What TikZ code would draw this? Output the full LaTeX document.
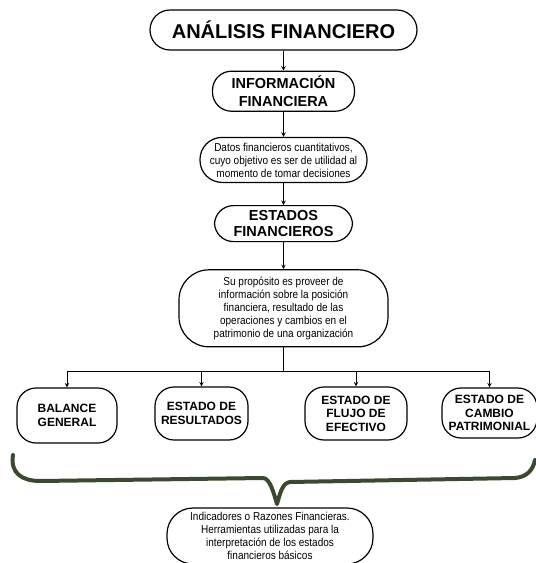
\documentclass[tikz,border=0pt]{standalone}
\usepackage{fontspec}
\setmainfont{Liberation Sans}
\newfontfamily\narrowfont[FakeStretch=0.87]{Liberation Sans}
\usepackage{tikz}
\usetikzlibrary{positioning}
\definecolor{llave}{HTML}{3B4A2F}

\begin{document}
\begin{tikzpicture}[x=1pt,y=-1pt,
    caja/.style={draw,line width=1.2pt,rounded corners=19pt,align=center,inner sep=1pt},
    negrita/.style={caja,font=\bfseries\fontsize{12}{13.5}\selectfont},
    texto/.style={caja,font=\narrowfont\fontsize{11.5}{13}\selectfont},
    flecha/.style={line width=1pt,-stealth}]
    \useasboundingbox (0,0) rectangle (536,563);
    %% cadena principal
     \node (tit) [caja,rounded corners=20pt,minimum width=267pt,minimum height=40pt,font=\bfseries\fontsize{20}{24}\selectfont] at (283.5,30) {ANÁLISIS FINANCIERO};
     \node (info) [caja,below=20pt of tit,minimum width=142pt,minimum height=40pt,font=\bfseries\fontsize{14.5}{18}\selectfont] {INFORMACIÓN\\FINANCIERA};
     \node (datos) [texto,rounded corners=22pt,below=25pt of info,minimum width=167pt,minimum height=45pt] {Datos financieros cuantitativos,\\cuyo objetivo es ser de utilidad al\\momento de tomar decisiones};
     \node (edos) [caja,below=22pt of datos,minimum width=138pt,minimum height=36pt,font=\bfseries\fontsize{14.5}{16}\selectfont] {ESTADOS\\FINANCIEROS};
     \node (prop) [texto,rounded corners=30pt,below=27pt of edos,minimum width=209pt,minimum height=77pt] {Su propósito es proveer de\\información sobre la posición\\financiera, resultado de las\\operaciones y cambios en el\\patrimonio de una organización};

     \draw[flecha] (tit) -- (info);
     \draw[flecha] (info) -- (datos);
     \draw[flecha] (datos) -- (edos);
     \draw[flecha] (edos) -- (prop);

    %% estados basicos
     \coordinate (j) at (283.5,371);
     \node (bal) [negrita,minimum width=100pt,minimum height=55pt] at (67,415.5) {BALANCE\\GENERAL};
     \node (res) [negrita,minimum width=93pt,minimum height=53pt] at (201.5,413.5) {ESTADO DE\\RESULTADOS};
     \node (flu) [negrita,minimum width=102pt,minimum height=53pt] at (356,413.5) {ESTADO DE\\FLUJO DE\\EFECTIVO};
     \node (cam) [negrita,minimum width=95pt,minimum height=50pt] at (489.5,413) {ESTADO DE\\CAMBIO\\PATRIMONIAL};

     \draw[line width=1pt] (prop) -- (j);
     \draw[line width=1pt] (bal |- j) -- (cam |- j);
     \foreach \n in {bal,res,flu,cam}
        \draw[flecha] (\n |- j) -- (\n.north);

    %% llave e indicadores
     \node (ind) [texto,rounded corners=26pt,minimum width=206pt,minimum height=56pt] at (270,536) {Indicadores o Razones Financieras.\\Herramientas utilizadas para la\\interpretación de los estados\\financieros básicos};
     \draw[llave,line width=4pt,line cap=round,line join=round] (13,455) .. controls (10,473) and (22,481) .. (40,481) -- (263,478)
        .. controls (270,478) and (274,494) .. (277,504) .. controls (280,494) and (282,483) .. (290,482)
        -- (515,478) .. controls (527,477) and (533,470) .. (535,460);
\end{tikzpicture}
\end{document}
